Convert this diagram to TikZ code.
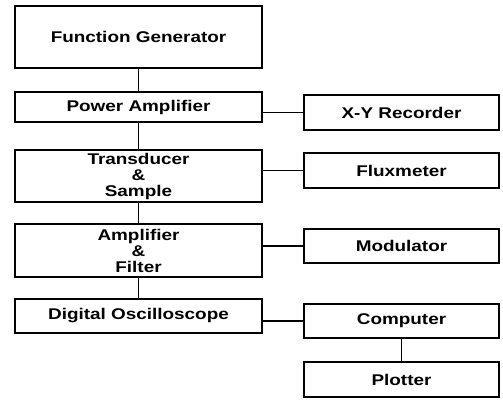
\documentclass[tikz,border=0pt]{standalone}
\usepackage{fontspec}
\setmainfont{Liberation Sans}[FakeStretch=1.22]
\begin{document}
\begin{tikzpicture}[x=1pt, y=-1pt, line width=1.1pt,
    main/.style = {draw, rectangle, inner sep=0pt, align=center,
        font=\fontsize{15.5}{16}\selectfont\bfseries},
    wide/.style = {main, minimum width=247pt},
    narrow/.style = {main, minimum width=195pt}]
    \useasboundingbox (0,0) rectangle (503,400);
    \node[wide, minimum height=62pt] (fg) at (138.5,37) {Function Generator};
    \node[wide, minimum height=30pt] (pa) at (138.5,107) {Power Amplifier};
    \node[wide, minimum height=52pt] (ts) at (138.5,176) {Transducer\\\&\\Sample};
    \node[wide, minimum height=53pt] (af) at (138.5,250.5) {Amplifier\\\&\\Filter};
    \node[wide, minimum height=34pt] (do) at (138.5,316) {Digital Oscilloscope};
    \node[narrow, minimum height=35pt] (xy) at (401.5,112.5) {X-Y Recorder};
    \node[narrow, minimum height=35pt] (fx) at (401.5,170.5) {Fluxmeter};
    \node[narrow, minimum height=34pt] (mod) at (401.5,246) {Modulator};
    \node[narrow, minimum height=34pt] (comp) at (401.5,321) {Computer};
    \node[narrow, minimum height=35pt] (pl) at (401.5,379.5) {Plotter};
    %main chain
    \draw (fg) -- (pa);
    \draw (pa) -- (ts);
    \draw (ts) -- (af);
    \draw (af) -- (do);
    \draw (comp) -- (pl);
    %side units
    \draw (xy.west) -- (xy.west -| pa.east);
    \draw (fx.west) -- (fx.west -| ts.east);
    \draw (mod.west) -- (mod.west -| af.east);
    \draw (comp.west) -- (comp.west -| do.east);
\end{tikzpicture}
\end{document}
